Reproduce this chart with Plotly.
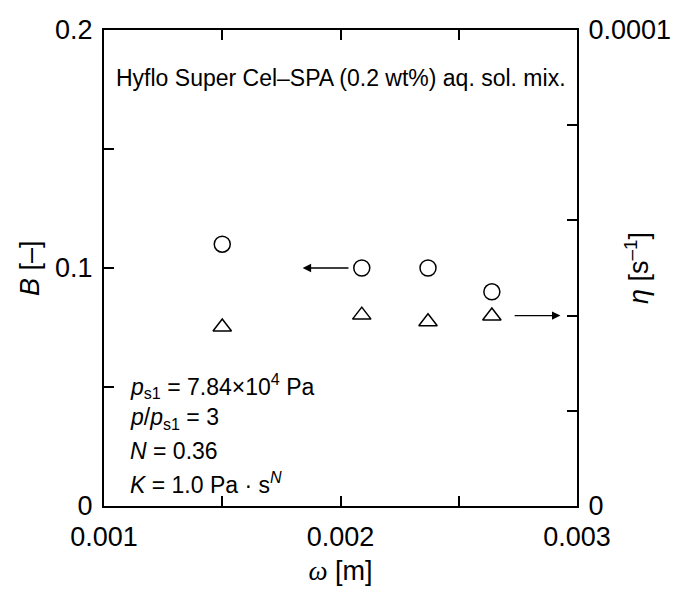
import plotly.graph_objects as go

# ---- data ----
omega = [0.0015, 0.00209, 0.00237, 0.00264]      # ω [m]
B_vals = [0.110, 0.100, 0.100, 0.090]             # B [-]
eta_vals = [3.76e-5, 4.01e-5, 3.87e-5, 3.99e-5]   # η [s^-1]

x_ticks = [0.001, 0.002, 0.003]
x_ticktext = ["0.001", "0.002", "0.003"]
y_ticks = [0, 0.1, 0.2]
y_ticktext = ["0", "0.1", "0.2"]
y2_ticks = [0, 0.0001]
y2_ticktext = ["0", "0.0001"]

# arrow indicators (tail -> head)
arrow_B = dict(tail=0.00204, head=0.00184, y=0.1)
arrow_eta = dict(tail=0.00273, head=0.00293, y=4.0e-5)

FONT = "Liberation Sans, Arial, sans-serif"
TICK_SIZE = 27

fig = go.Figure()
fig.add_trace(go.Scatter(
    x=omega, y=B_vals, mode="markers",
    marker=dict(symbol="circle-open", size=16, color="black", line=dict(width=1.5)),
    yaxis="y", showlegend=False))
fig.add_trace(go.Scatter(
    x=omega, y=eta_vals, mode="markers",
    marker=dict(symbol="triangle-up-open", size=16, color="black", line=dict(width=1.5)),
    yaxis="y2", showlegend=False))

axis_common = dict(
    showline=True, linewidth=2, linecolor="black", ticks="inside", ticklen=10,
    tickwidth=2, tickcolor="black", showgrid=False, zeroline=False, automargin=False,
    tickfont=dict(family=FONT, size=TICK_SIZE, color="black"),
)

fig.update_layout(
    width=673, height=592,
    margin=dict(l=104, r=96, t=30, b=86),
    paper_bgcolor="white", plot_bgcolor="white",
    font=dict(family=FONT, color="black"),
    xaxis=dict(
        range=[0.001, 0.003], tickvals=x_ticks, ticktext=x_ticktext,
        mirror="ticks", ticklabelstandoff=6,
        minor=dict(dtick=0.0005, tick0=0.001, ticks="inside", ticklen=10, tickwidth=2,
                   tickcolor="black", showgrid=False),
        title=dict(text="<span style='font-family:Liberation Serif,Times New Roman,serif'><i>ω</i></span> [m]",
                   font=dict(family=FONT, size=27), standoff=10),
        **axis_common),
    yaxis=dict(
        range=[0, 0.2], tickvals=y_ticks, ticktext=y_ticktext, ticklabelstandoff=4,
        minor=dict(dtick=0.05, tick0=0, ticks="inside", ticklen=10, tickwidth=2,
                   tickcolor="black", showgrid=False),
        **axis_common),
    yaxis2=dict(
        range=[0, 0.0001], tickvals=y2_ticks, ticktext=y2_ticktext, ticklabelstandoff=4,
        overlaying="y", side="right",
        minor=dict(dtick=0.00002, tick0=0, ticks="inside", ticklen=10, tickwidth=2,
                   tickcolor="black", showgrid=False),
        **axis_common),
)

# axis titles for the y axes (placed as rotated texts)
fig.add_annotation(x=0, y=0.5, xref="paper", yref="paper", xshift=-74, showarrow=False,
                   text="<i>B</i> [–]", textangle=-90,
                   font=dict(family=FONT, size=27, color="black"),
                   xanchor="center", yanchor="middle")
fig.add_annotation(x=1, y=0.5, xref="paper", yref="paper", xshift=60, showarrow=False,
                   text="<i>η</i> [s<sup>–1</sup>]", textangle=-90,
                   font=dict(family=FONT, size=27, color="black"),
                   xanchor="center", yanchor="middle")

# arrows
fig.add_annotation(x=arrow_B["head"], y=arrow_B["y"], ax=arrow_B["tail"], ay=arrow_B["y"],
                   xref="x", yref="y", axref="x", ayref="y", text="", showarrow=True,
                   arrowhead=2, arrowsize=1.3, arrowwidth=1.3, arrowcolor="black")
fig.add_annotation(x=arrow_eta["head"], y=arrow_eta["y"], ax=arrow_eta["tail"], ay=arrow_eta["y"],
                   xref="x", yref="y2", axref="x", ayref="y2", text="", showarrow=True,
                   arrowhead=2, arrowsize=1.3, arrowwidth=1.3, arrowcolor="black")

# texts
fig.add_annotation(x=0.5, y=0.90, xref="paper", yref="paper", showarrow=False,
                   text="Hyflo Super Cel–SPA (0.2 wt%) aq. sol. mix.",
                   font=dict(family=FONT, size=23, color="black"), xanchor="center", yanchor="middle")

lines = [
    "<i>p</i><sub>s1</sub> = 7.84×10<sup>4</sup> Pa",
    "<i>p</i>/<i>p</i><sub>s1</sub> = 3",
    "<i>N</i> = 0.36",
    "<i>K</i> = 1.0 Pa · s<sup><i>N</i></sup>",
]
for i, t in enumerate(lines):
    fig.add_annotation(x=0.05, y=0.252 - i * 0.068, xref="paper", yref="paper", showarrow=False,
                       text=t, font=dict(family=FONT, size=23, color="black"),
                       xanchor="left", yanchor="middle", align="left")

fig.write_html("out.html")
